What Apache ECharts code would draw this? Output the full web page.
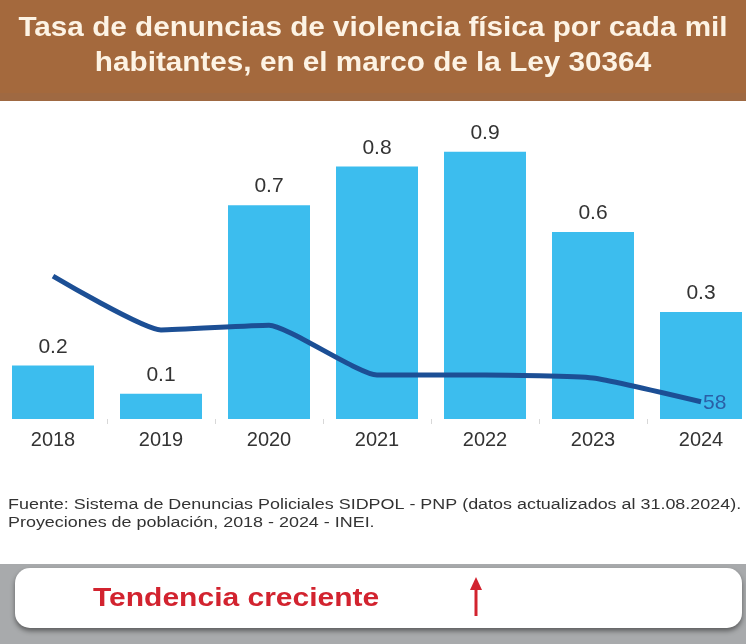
<!DOCTYPE html>
<html>
<head>
<meta charset="utf-8">
<script src="https://cdn.jsdelivr.net/npm/echarts@6/dist/echarts.min.js"></script>
<style>html,body{margin:0;padding:0;background:#fff;overflow:hidden;width:746px;height:644px}#c{position:absolute;left:-1px;top:0;width:756px;height:644px}</style>
</head>
<body>
<div id="c"></div>
<script>
const years = ['2018','2019','2020','2021','2022','2023','2024'];
const rateValues = [0.18, 0.085, 0.72, 0.85, 0.90, 0.63, 0.36];
const rateLabels = ['0.2','0.1','0.7','0.8','0.9','0.6','0.3'];
const lineValues = [481, 300, 316, 148, 148, 138, 58];
const titleLines = ['Tasa de denuncias de violencia física por cada mil', 'habitantes, en el marco de la Ley 30364'];
const sourceLines = ['Fuente: Sistema de Denuncias Policiales SIDPOL - PNP (datos actualizados al 31.08.2024).', 'Proyeciones de población, 2018 - 2024 - INEI.'];
const trendText = 'Tendencia creciente';

const chart = echarts.init(document.getElementById('c'), null, {renderer: 'canvas'});
const font = '"Liberation Sans", Arial, sans-serif';
const dx = 1; // container starts 1px left of the page
chart.setOption({
  animation: false,
  backgroundColor: '#ffffff',
  grid: {left: 0, right: 0, top: 122, bottom: 225, containLabel: false},
  xAxis: {
    type: 'category',
    data: years,
    axisLine: {show: false},
    axisTick: {show: true, length: 5, lineStyle: {color: '#d8d8d8'}},
    axisLabel: {color: '#333', fontSize: 20, fontFamily: font, margin: 11}
  },
  yAxis: [
    {type: 'value', min: 0, max: 1, show: false, splitLine: {show: false}},
    {type: 'value', min: 0, max: 1000, show: false, splitLine: {show: false}}
  ],
  graphic: [
    {type: 'rect', z: -1, shape: {x: 0, y: 0, width: 756, height: 101}, style: {fill: '#a4693d'}},
    {type: 'rect', z: -1, shape: {x: 0, y: 93, width: 756, height: 8}, style: {fill: '#9f6942'}},
    {type: 'text', x: 373 + dx, y: 29, scaleX: 1.1, style: {text: titleLines[0], x: 0, y: 0, align: 'center', verticalAlign: 'middle', fill: '#fdf3e4', fontSize: 27, fontWeight: 'bold', fontFamily: font}},
    {type: 'text', x: 373 + dx, y: 64, scaleX: 1.1, style: {text: titleLines[1], x: 0, y: 0, align: 'center', verticalAlign: 'middle', fill: '#fdf3e4', fontSize: 27, fontWeight: 'bold', fontFamily: font}},
    {type: 'text', x: 8 + dx, y: 505, scaleX: 1.28, style: {text: sourceLines[0], x: 0, y: 0, align: 'left', verticalAlign: 'middle', fill: '#333', fontSize: 14, fontFamily: font}},
    {type: 'text', x: 8 + dx, y: 523, scaleX: 1.28, style: {text: sourceLines[1], x: 0, y: 0, align: 'left', verticalAlign: 'middle', fill: '#333', fontSize: 14, fontFamily: font}},
    {type: 'rect', z: 1, shape: {x: 0, y: 564, width: 756, height: 80}, style: {fill: '#a8aaac'}},
    {type: 'rect', z: 2, shape: {x: 15 + dx, y: 568, width: 727, height: 60, r: 15},
      style: {fill: '#ffffff', shadowBlur: 5, shadowOffsetY: 3, shadowColor: 'rgba(0,0,0,0.45)'}},
    {type: 'text', z: 3, x: 93 + dx, y: 599, scaleX: 1.2, style: {text: trendText, x: 0, y: 0, align: 'left', verticalAlign: 'middle', fill: '#d2232f', fontSize: 25, fontWeight: 'bold', fontFamily: font}},
    {type: 'line', z: 3, shape: {x1: 476 + dx, y1: 616, x2: 476 + dx, y2: 586}, style: {stroke: '#d2232f', lineWidth: 3}},
    {type: 'polygon', z: 3, shape: {points: [[476 + dx, 577], [470 + dx, 590], [482 + dx, 590]]}, style: {fill: '#d2232f'}}
  ],
  series: [
    {
      type: 'bar',
      data: rateValues,
      barWidth: 82,
      itemStyle: {color: '#3cbdee'},
      label: {
        show: true, position: 'top', distance: 8,
        color: '#333', fontSize: 21, fontFamily: font,
        formatter: p => rateLabels[p.dataIndex]
      }
    },
    {
      type: 'line',
      yAxisIndex: 1,
      data: lineValues,
      smooth: 0.15,
      symbol: 'none',
      lineStyle: {color: '#1c4f95', width: 5},
      label: {show: false},
      endLabel: {show: true, color: '#2a5fa6', fontSize: 21, fontFamily: font, distance: 0, offset: [2, 1], formatter: p => String(p.value)}
    }
  ]
});
</script>
</body>
</html>
